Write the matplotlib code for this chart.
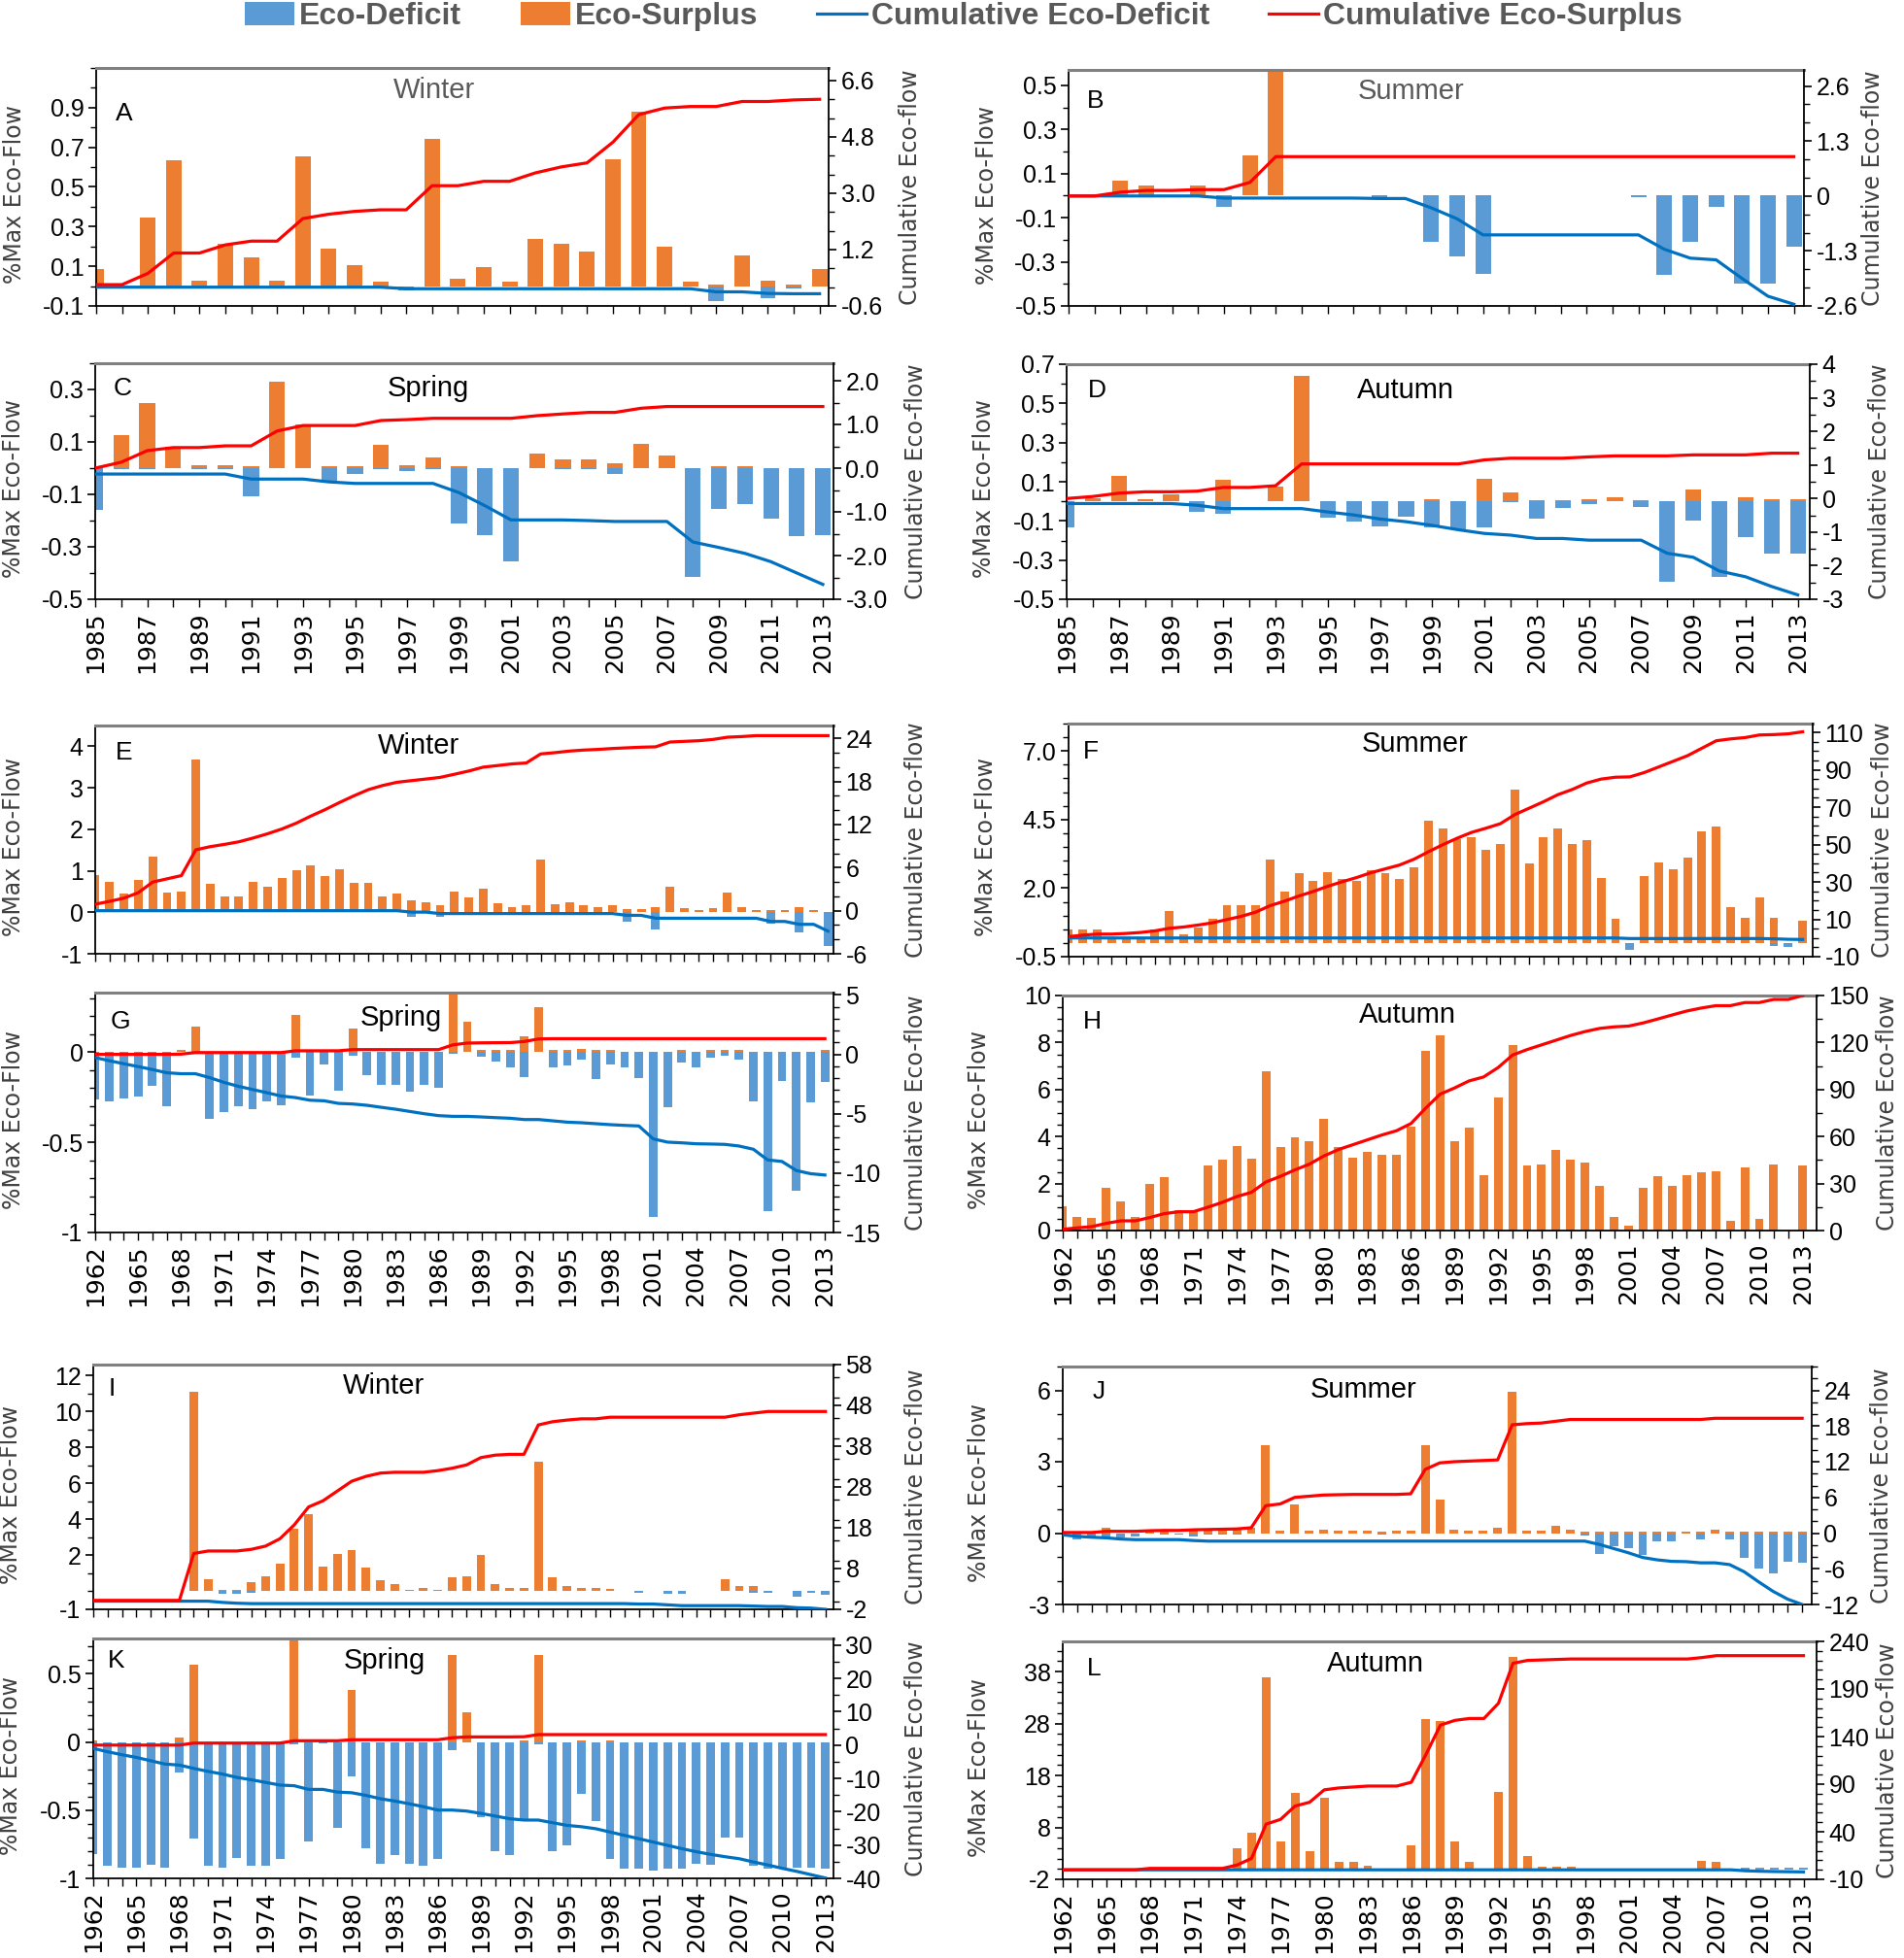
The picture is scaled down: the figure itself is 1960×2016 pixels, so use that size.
import numpy as np
import matplotlib
matplotlib.use("Agg")
import matplotlib.pyplot as plt
from matplotlib.patches import Patch
from matplotlib.lines import Line2D
from matplotlib.ticker import MultipleLocator

plt.rcParams['font.family'] = ['Liberation Sans', 'DejaVu Sans']

# ------------------------------------------------------------------ data
YEARS_SHORT = list(range(1985, 2014))
YEARS_LONG = list(range(1962, 2014))

LEGEND_LABELS = ['Eco-Deficit', 'Eco-Surplus', 'Cumulative Eco-Deficit', 'Cumulative Eco-Surplus']
SEASONS = ['Winter', 'Summer', 'Spring', 'Autumn', 'Winter', 'Summer',
           'Spring', 'Autumn', 'Winter', 'Summer', 'Spring', 'Autumn']
LETTERS = ['A', 'B', 'C', 'D', 'E', 'F', 'G', 'H', 'I', 'J', 'K', 'L']

# --- A (Winter 1985-2013)
A_surplus = [0.084, 0, 0.347, 0.634, 0.029, 0.215, 0.145, 0.029, 0.656, 0.19, 0.106, 0.022, 0, 0.744, 0.035,
             0.098, 0.022, 0.24, 0.215, 0.176, 0.642, 0.882, 0.2, 0.022, 0.006, 0.153, 0.029, 0.006, 0.084]
A_deficit = [0, 0, 0, 0, 0, 0, 0, 0, 0, 0, 0, 0, -0.02, 0, 0, 0, 0, 0, 0, 0, 0, 0, 0, 0, -0.077, 0, -0.063, -0.01, 0]
A_cum_surplus = [0.08, 0.08, 0.44, 1.09, 1.09, 1.35, 1.47, 1.47, 2.19, 2.33, 2.42, 2.47, 2.47, 3.24, 3.24,
                 3.38, 3.38, 3.65, 3.84, 3.97, 4.63, 5.51, 5.72, 5.77, 5.77, 5.93, 5.93, 5.98, 6.0]
A_cum_deficit = [0, 0, 0, 0, 0, 0, 0, 0, 0, 0, 0, 0, -0.05, -0.05, -0.05, -0.05, -0.05, -0.05, -0.05, -0.05,
                 -0.05, -0.05, -0.05, -0.05, -0.15, -0.15, -0.2, -0.21, -0.21]

# --- B (Summer 1985-2013)
B_surplus = [0, 0, 0.069, 0.047, 0, 0.047, 0, 0.184, 0.61] + [0] * 20
B_deficit = [0, 0, 0, 0, 0, 0, -0.049, 0, 0, 0, 0, 0, -0.008, 0, -0.21, -0.275, -0.353, 0, 0, 0, 0, 0,
             -0.005, -0.357, -0.21, -0.049, -0.40, -0.40, -0.23]
B_cum_surplus = [0, 0, 0.09, 0.13, 0.13, 0.15, 0.15, 0.32] + [0.93] * 21
B_cum_deficit = [0, 0, 0, 0, 0, 0, -0.05, -0.05, -0.05, -0.05, -0.05, -0.05, -0.06, -0.06, -0.28, -0.54,
                 -0.92, -0.92, -0.92, -0.92, -0.92, -0.92, -0.92, -1.26, -1.47, -1.51, -1.95, -2.37, -2.56]

# --- C (Spring 1985-2013)
C_surplus = [0, 0.125, 0.25, 0.081, 0.0125, 0.0125, 0.006, 0.331, 0.165, 0.006, 0.006, 0.09, 0.0125, 0.041,
             0.006, 0, 0, 0.056, 0.035, 0.035, 0.019, 0.094, 0.047, 0, 0.006, 0.006, 0, 0, 0]
C_deficit = [-0.159, -0.005, -0.005, 0, -0.005, -0.005, -0.106, 0, 0, -0.05, -0.022, -0.005, -0.01, -0.005,
             -0.21, -0.254, -0.356, 0, -0.005, -0.005, -0.022, 0, 0, -0.415, -0.154, -0.138, -0.191, -0.26, -0.254]
C_cum_surplus = [0, 0.135, 0.4, 0.47, 0.47, 0.51, 0.51, 0.85, 0.975, 0.975, 0.975, 1.09, 1.11, 1.14, 1.14,
                 1.14, 1.14, 1.2, 1.24, 1.275, 1.275, 1.37, 1.41, 1.41, 1.41, 1.41, 1.41, 1.41, 1.41]
C_cum_deficit = [-0.135] * 6 + [-0.25] * 3 + [-0.315, -0.35, -0.35, -0.35, -0.35, -0.56, -0.86, -1.185, -1.185,
                                              -1.185, -1.2, -1.22, -1.22, -1.22, -1.69, -1.815, -1.95, -2.14,
                                              -2.4, -2.66]

# --- D (Autumn 1985-2013)
D_surplus = [0, 0.017, 0.132, 0.013, 0.038, 0, 0.108, 0, 0.075, 0.642, 0, 0, 0, 0, 0.013, 0, 0.116, 0.043,
             0.005, 0.005, 0.013, 0.021, 0.005, 0, 0.06, 0, 0.021, 0.013, 0.013]
D_deficit = [-0.132, 0, 0, 0, 0, -0.053, -0.065, 0, 0, 0, -0.081, -0.103, -0.127, -0.078, -0.132, -0.144,
             -0.132, -0.005, -0.089, -0.036, -0.012, 0, -0.028, -0.409, -0.099, -0.384, -0.185, -0.268, -0.268]
D_cum_surplus = [0, 0.06, 0.16, 0.2, 0.2, 0.22, 0.33, 0.33, 0.38, 1.03, 1.03, 1.03, 1.03, 1.03, 1.03, 1.03,
                 1.15, 1.2, 1.2, 1.2, 1.24, 1.27, 1.27, 1.27, 1.3, 1.3, 1.3, 1.35, 1.35]
D_cum_deficit = [-0.15, -0.15, -0.15, -0.15, -0.15, -0.2, -0.3, -0.3, -0.3, -0.3, -0.4, -0.49, -0.61, -0.69,
                 -0.8, -0.93, -1.04, -1.09, -1.19, -1.19, -1.24, -1.24, -1.24, -1.63, -1.75, -2.16, -2.33,
                 -2.62, -2.87]

# --- E (Winter 1962-2013)
E_surplus = [0.89, 0.73, 0.46, 0.79, 1.35, 0.47, 0.50, 3.69, 0.69, 0.39, 0.39, 0.73, 0.61, 0.82, 1.01, 1.12,
             0.87, 1.04, 0.70, 0.70, 0.39, 0.44, 0.28, 0.23, 0.17, 0.50, 0.35, 0.57, 0.21, 0.13, 0.16, 1.27,
             0.20, 0.25, 0.17, 0.13, 0.17, 0.07, 0.07, 0.13, 0.62, 0.09, 0.05, 0.11, 0.47, 0.12, 0.05, 0.05,
             0.05, 0.13, 0.05, 0]
E_deficit = [0] * 22 + [-0.1, 0, -0.1] + [0] * 12 + [-0.22, 0, -0.41] + [0] * 7 + [-0.28, 0, -0.49, 0, -0.82]
E_cum_surplus = [0.9, 1.3, 1.75, 2.51, 3.99, 4.44, 4.89, 8.48, 8.92, 9.24, 9.6, 10.13, 10.72, 11.39, 12.2,
                 13.18, 14.08, 15.07, 16.0, 16.86, 17.44, 17.89, 18.12, 18.34, 18.57, 19.01, 19.46, 20.0,
                 20.22, 20.45, 20.58, 21.84, 22.02, 22.24, 22.38, 22.47, 22.6, 22.69, 22.78, 22.83, 23.5,
                 23.59, 23.68, 23.86, 24.17, 24.26, 24.39, 24.39, 24.39, 24.39, 24.39, 24.39]
E_cum_deficit = [0] * 22 + [-0.2, -0.2] + [-0.4] * 13 + [-0.65, -0.65] + [-1.05] * 8 + [-1.5, -1.5, -1.9, -1.9, -2.85]

# --- F (Summer 1962-2013)
F_surplus = [0.5, 0.5, 0.5, 0.2, 0.2, 0.2, 0.5, 1.17, 0.32, 0.55, 0.88, 1.38, 1.38, 1.38, 3.05, 1.89, 2.56,
             2.26, 2.59, 2.32, 2.26, 2.65, 2.56, 2.32, 2.77, 4.47, 4.19, 3.8, 3.86, 3.38, 3.62, 5.59, 2.89,
             3.86, 4.19, 3.62, 3.74, 2.38, 0.87, 0, 2.44, 2.94, 2.7, 3.11, 4.07, 4.23, 1.3, 0.91, 1.65,
             0.91, 0, 0.81]
F_deficit = [0] * 39 + [-0.24] + [0] * 9 + [-0.1, -0.15, 0]
F_cum_surplus = [0.7, 1.55, 2.07, 2.07, 2.42, 2.94, 3.8, 5.18, 5.87, 6.91, 8.12, 9.84, 11.57, 13.82, 17.27,
                 19.69, 22.45, 24.87, 27.63, 30.05, 32.3, 34.89, 36.96, 39.03, 42.14, 46.11, 49.91, 53.37,
                 56.48, 58.72, 61.14, 65.98, 69.43, 72.89, 76.68, 79.45, 82.9, 85.0, 86.0, 86.2, 88.5, 91.5,
                 94.5, 97.5, 101.5, 105.5, 106.5, 107.2, 108.6, 108.8, 109.2, 110.3]
F_cum_deficit = [0] * 39 + [-0.3] * 10 + [-0.45, -0.7, -0.8]

# --- G (Spring 1962-2013)
G_surplus = [0, 0, 0, 0, 0, 0, 0.011, 0.139, 0, 0, 0, 0, 0, 0, 0.207, 0, 0, 0, 0.13, 0, 0, 0, 0, 0, 0,
             0.40, 0.166, 0.011, 0.011, 0.011, 0.089, 0.25, 0.011, 0.011, 0.018, 0.011, 0.011, 0, 0, 0, 0,
             0.011, 0, 0.011, 0.011, 0.011, 0, 0, 0, 0, 0, 0.011]
G_deficit = [-0.263, -0.275, -0.257, -0.248, -0.1875, -0.298, 0, 0, -0.37, -0.334, -0.298, -0.316, -0.275,
             -0.293, -0.03, -0.239, -0.066, -0.2125, -0.018, -0.125, -0.179, -0.179, -0.221, -0.179, -0.196,
             -0.007, 0, -0.025, -0.052, -0.084, -0.1375, 0, -0.084, -0.075, -0.039, -0.15, -0.066, -0.084,
             -0.143, -0.914, -0.307, -0.057, -0.084, -0.03, -0.021, -0.039, -0.271, -0.879, -0.159, -0.768,
             -0.28, -0.168]
G_cum_surplus = [0] * 6 + [0.02] + [0.15] * 7 + [0.3] * 4 + [0.4] * 7 + [0.8, 0.95, 0.97, 0.98, 0.99, 1.08, 1.3] + [1.32] * 20
G_cum_deficit = [-0.27, -0.54, -0.79, -1.03, -1.28, -1.55, -1.63, -1.63, -1.96, -2.36, -2.69, -2.96, -3.23,
                 -3.51, -3.64, -3.86, -3.91, -4.13, -4.18, -4.29, -4.46, -4.62, -4.81, -5.0, -5.16, -5.22,
                 -5.22, -5.27, -5.33, -5.38, -5.49, -5.49, -5.6, -5.71, -5.76, -5.84, -5.92, -5.98, -6.03,
                 -7.12, -7.39, -7.45, -7.53, -7.55, -7.58, -7.72, -7.99, -8.89, -9.02, -9.78, -10.05, -10.16]

# --- H (Autumn 1962-2013)
H_surplus = [1.03, 0.59, 0.52, 1.83, 1.24, 0.59, 2.0, 2.28, 0.87, 0.83, 2.76, 3.0, 3.59, 3.06, 6.76, 3.56,
             3.97, 3.79, 4.76, 3.56, 3.1, 3.35, 3.21, 3.21, 4.44, 7.66, 8.3, 3.82, 4.39, 2.34, 5.66, 7.9,
             2.76, 2.83, 3.45, 3.0, 2.9, 1.9, 0.59, 0.21, 1.83, 2.3, 1.89, 2.34, 2.48, 2.51, 0.41, 2.69,
             0.48, 2.8, 0, 2.76]
H_deficit = [0] * 52
H_cum_surplus = [0.8, 1.7, 2.5, 4.6, 6.2, 6.2, 8.3, 10.8, 12.0, 12.0, 14.9, 18.0, 21.7, 24.4, 31.0, 34.6,
                 38.7, 42.4, 47.6, 51.7, 54.8, 57.9, 61.0, 63.7, 68.3, 78.0, 87.0, 91.0, 95.5, 98.0, 104.0,
                 112.0, 115.5, 118.5, 121.5, 124.5, 127.0, 129.0, 130.0, 130.5, 132.5, 135.0, 137.6, 140.1,
                 142.0, 143.5, 143.5, 145.5, 145.5, 147.5, 147.5, 150.0]
H_cum_deficit = [0] * 52

# --- I (Winter 1962-2013)
I_surplus = [0.05, 0.05, 0.05, 0.05, 0.05, 0.05, 0.05, 11.1, 0.69, 0.08, 0.08, 0.53, 0.86, 1.52, 3.5, 4.3,
             1.4, 2.1, 2.28, 1.32, 0.61, 0.41, 0.08, 0.17, 0.08, 0.79, 0.86, 2.0, 0.41, 0.17, 0.17, 7.22,
             0.79, 0.3, 0.21, 0.21, 0.13, 0.05, 0.05, 0.05, 0.05, 0.05, 0.05, 0.05, 0.69, 0.3, 0.3, 0.05,
             0.05, 0, 0, 0]
I_deficit = [0] * 9 + [-0.15, -0.15, -0.1] + [0] * 26 + [-0.1, 0, -0.15, -0.15, 0, 0, 0, 0, -0.1, -0.1, 0,
                                                        -0.3, -0.1, -0.2]
I_cum_surplus = [0.2] * 7 + [11.7, 12.3, 12.3, 12.3, 12.7, 13.5, 15.3, 18.7, 23.1, 24.6, 27.0, 29.4, 30.6,
                             31.4, 31.6, 31.6, 31.6, 32.0, 32.6, 33.4, 35.2, 35.8, 36.0, 36.0, 43.2, 44.0,
                             44.4, 44.7, 44.7] + [45.1] * 9 + [45.7, 46.1] + [46.5] * 5
I_cum_deficit = [0] * 9 + [-0.3, -0.5, -0.6] + [-0.6] * 26 + [-0.7, -0.7, -0.9, -1.1, -1.1, -1.1, -1.1, -1.1,
                                                             -1.2, -1.3, -1.3, -1.6, -1.7, -2.0]

# --- J (Summer 1962-2013)
J_surplus = [0.05, 0, 0, 0.23, 0, 0, 0.07, 0.07, 0, 0.16, 0.16, 0.16, 0.16, 0.23, 3.68, 0.1, 1.21, 0.1,
             0.16, 0.1, 0.1, 0.1, 0.07, 0.1, 0.1, 3.68, 1.41, 0.16, 0.1, 0.1, 0.23, 5.93, 0.1, 0.1, 0.3,
             0.16, 0.07, 0.07, 0.07, 0.07, 0.07, 0.07, 0.07, 0.07, 0.07, 0.16, 0.07, 0.07, 0.07, 0.07,
             0.07, 0.07]
J_deficit = [-0.1, -0.27, -0.14, -0.18, -0.18, -0.14, 0, -0.07, -0.07, -0.14, -0.07, -0.07, -0.07, 0, 0, 0,
             0, 0, 0, 0, 0, 0, -0.07, 0, 0, 0, 0, 0, 0, 0, 0, 0, 0, 0, 0, 0, -0.1, -0.86, -0.55, -0.64,
             -0.93, -0.34, -0.34, -0.04, -0.27, 0, -0.27, -1.05, -1.5, -1.7, -1.19, -1.26]
J_cum_surplus = [0.1, 0.1, 0.1, 0.3, 0.3, 0.3, 0.4, 0.45, 0.45, 0.55, 0.6, 0.65, 0.7, 0.9, 4.6, 4.9, 6.0,
                 6.2, 6.4, 6.45, 6.5, 6.5, 6.5, 6.5, 6.6, 10.7, 11.8, 12.0, 12.1, 12.2, 12.3, 18.2, 18.4,
                 18.5, 18.8, 19.1] + [19.1] * 9 + [19.3] * 7
J_cum_deficit = [-0.3, -0.55, -0.7, -0.8, -1.0, -1.1, -1.1, -1.1, -1.1, -1.25, -1.35] + [-1.35] * 26 + \
                [-1.9, -2.6, -3.3, -4.1, -4.5, -4.75, -4.8, -5.0, -5.0, -5.3, -6.5, -8.2, -9.8, -11.1, -12.0]

# --- K (Spring 1962-2013)
K_surplus = [0.015, 0, 0, 0, 0, 0, 0.03, 0.57, 0, 0, 0, 0, 0, 0, 0.75, 0, 0.02, 0, 0.38, 0, 0, 0, 0, 0, 0,
             0.64, 0.22, 0, 0, 0, 0.015, 0.64, 0, 0, 0.015, 0, 0.015] + [0] * 15
K_deficit = [-0.82, -0.91, -0.92, -0.92, -0.9, -0.92, -0.22, -0.71, -0.91, -0.92, -0.85, -0.91, -0.91, -0.86,
             -0.02, -0.73, -0.01, -0.63, -0.25, -0.78, -0.89, -0.83, -0.89, -0.91, -0.86, -0.06, 0, -0.55,
             -0.8, -0.83, -0.58, -0.02, -0.8, -0.76, -0.38, -0.58, -0.86, -0.93, -0.93, -0.94, -0.93, -0.93,
             -0.89, -0.9, -0.7, -0.7, -0.91, -0.93, -0.92, -0.92, -0.92, -0.93]
K_cum_surplus = [0] * 7 + [0.6] * 7 + [1.3] * 4 + [1.6] * 7 + [2.2, 2.45, 2.45, 2.45, 2.45, 2.5] + [3.15] * 21
K_cum_deficit = [-1.0, -2.0, -2.9, -3.7, -4.7, -5.7, -6.0, -7.0, -7.9, -8.7, -9.7, -10.4, -11.2, -12.0,
                 -12.2, -13.3, -13.3, -14.1, -14.3, -15.1, -16.1, -16.8, -17.6, -18.5, -19.5, -19.5, -19.8,
                 -20.5, -21.3, -22.1, -22.5, -22.5, -23.3, -24.1, -24.5, -25.1, -26.1, -27.1, -28.1, -29.1,
                 -30.1, -31.1, -32.0, -32.8, -33.5, -34.1, -35.1, -36.0, -37.0, -37.9, -38.9, -39.9]

# --- L (Autumn 1962-2013)
L_surplus = [0] * 12 + [3.9, 6.9, 36.9, 5.2, 14.6, 3.4, 13.75, 1.3, 1.3, 0.7, 0, 0, 4.6, 28.9, 28.5, 5.2,
                        1.3, 0, 14.9, 40.8, 2.5, 0.4, 0.4, 0.4] + [0] * 8 + [1.6, 1.3, 0, 0.2, 0.2, 0.2, 0.2, 0.2]
L_deficit = [0] * 47 + [-0.2] * 5
L_cum_surplus = [0] * 6 + [1.5] * 6 + [5, 12, 48, 53, 67, 71, 84, 86, 87, 88, 88, 88, 92, 121, 152, 157,
                                       159, 159, 175, 217, 220, 220.5, 221, 221.5] + [221.5] * 8 + [223, 225] + [225] * 6
L_cum_deficit = [0] * 47 + [-1.0, -1.5, -1.8, -2.0, -2.2]

# --- axis tick values / labels
A_LT = [-0.1, 0.1, 0.3, 0.5, 0.7, 0.9]; A_LL = ['-0.1', '0.1', '0.3', '0.5', '0.7', '0.9']
A_RT = [-0.6, 1.2, 3.0, 4.8, 6.6]; A_RL = ['-0.6', '1.2', '3.0', '4.8', '6.6']
B_LT = [-0.5, -0.3, -0.1, 0.1, 0.3, 0.5]; B_LL = ['-0.5', '-0.3', '-0.1', '0.1', '0.3', '0.5']
B_RT = [-2.6, -1.3, 0, 1.3, 2.6]; B_RL = ['-2.6', '-1.3', '0', '1.3', '2.6']
C_LT = [-0.5, -0.3, -0.1, 0.1, 0.3]; C_LL = ['-0.5', '-0.3', '-0.1', '0.1', '0.3']
C_RT = [-3, -2, -1, 0, 1, 2]; C_RL = ['-3.0', '-2.0', '-1.0', '0.0', '1.0', '2.0']
D_LT = [-0.5, -0.3, -0.1, 0.1, 0.3, 0.5, 0.7]; D_LL = ['-0.5', '-0.3', '-0.1', '0.1', '0.3', '0.5', '0.7']
D_RT = [-3, -2, -1, 0, 1, 2, 3, 4]; D_RL = ['-3', '-2', '-1', '0', '1', '2', '3', '4']
E_LT = [-1, 0, 1, 2, 3, 4]; E_LL = ['-1', '0', '1', '2', '3', '4']
E_RT = [-6, 0, 6, 12, 18, 24]; E_RL = ['-6', '0', '6', '12', '18', '24']
F_LT = [-0.5, 2.0, 4.5, 7.0]; F_LL = ['-0.5', '2.0', '4.5', '7.0']
F_RT = [-10, 10, 30, 50, 70, 90, 110]; F_RL = ['-10', '10', '30', '50', '70', '90', '110']
G_LT = [-1, -0.5, 0]; G_LL = ['-1', '-0.5', '0']
G_RT = [-15, -10, -5, 0, 5]; G_RL = ['-15', '-10', '-5', '0', '5']
H_LT = [0, 2, 4, 6, 8, 10]; H_LL = ['0', '2', '4', '6', '8', '10']
H_RT = [0, 30, 60, 90, 120, 150]; H_RL = ['0', '30', '60', '90', '120', '150']
I_LT = [-1, 2, 4, 6, 8, 10, 12]; I_LL = ['-1', '2', '4', '6', '8', '10', '12']
I_RT = [-2, 8, 18, 28, 38, 48, 58]; I_RL = ['-2', '8', '18', '28', '38', '48', '58']
J_LT = [-3, 0, 3, 6]; J_LL = ['-3', '0', '3', '6']
J_RT = [-12, -6, 0, 6, 12, 18, 24]; J_RL = ['-12', '-6', '0', '6', '12', '18', '24']
K_LT = [-1, -0.5, 0, 0.5]; K_LL = ['-1', '-0.5', '0', '0.5']
K_RT = [-40, -30, -20, -10, 0, 10, 20, 30]; K_RL = ['-40', '-30', '-20', '-10', '0', '10', '20', '30']
L_LT = [-2, 8, 18, 28, 38]; L_LL = ['-2', '8', '18', '28', '38']
L_RT = [-10, 40, 90, 140, 190, 240]; L_RL = ['-10', '40', '90', '140', '190', '240']

# ------------------------------------------------------------------ style
ORANGE = '#ED7D31'
BLUE_BAR = '#5B9BD5'
BLUE_LINE = '#0070C0'
RED = '#FF0000'
W, H = 1960, 2016

PANELS = [
    dict(years=YEARS_SHORT, sur=A_surplus, dfc=A_deficit, csur=A_cum_surplus, cdef=A_cum_deficit,
         lt=A_LT, ll=A_LL, rt=A_RT, rl=A_RL, ylim=(-0.1, 1.1), y2lim=(-0.6, 7.0), lmin=0.1, rmin=0.6,
         rect=(99, 70, 853, 315), pad=0.35, xstep=None, title=(0.462, 0.908), letter=(0.027, 0.808),
         tcolor='#595959'),
    dict(years=YEARS_SHORT, sur=B_surplus, dfc=B_deficit, csur=B_cum_surplus, cdef=B_cum_deficit,
         lt=B_LT, ll=B_LL, rt=B_RT, rl=B_RL, ylim=(-0.5, 0.57), y2lim=(-2.6, 2.98), lmin=0.1, rmin=1.3 / 3,
         rect=(1100, 72, 1857, 315), pad=0.39, xstep=None, title=(0.466, 0.91), letter=(0.025, 0.868),
         tcolor='#595959'),
    dict(years=YEARS_SHORT, sur=C_surplus, dfc=C_deficit, csur=C_cum_surplus, cdef=C_cum_deficit,
         lt=C_LT, ll=C_LL, rt=C_RT, rl=C_RL, ylim=(-0.5, 0.4), y2lim=(-3.0, 2.4), lmin=0.1, rmin=0.5,
         rect=(98, 374, 858, 617), pad=0.41, xstep=2, title=(0.451, 0.893), letter=(0.025, 0.893),
         tcolor='black'),
    dict(years=YEARS_SHORT, sur=D_surplus, dfc=D_deficit, csur=D_cum_surplus, cdef=D_cum_deficit,
         lt=D_LT, ll=D_LL, rt=D_RT, rl=D_RL, ylim=(-0.5, 0.7), y2lim=(-3, 4), lmin=0.1, rmin=0.5,
         rect=(1098, 375, 1863, 617), pad=0.46, xstep=2, title=(0.456, 0.887), letter=(0.029, 0.887),
         tcolor='black'),
    dict(years=YEARS_LONG, sur=E_surplus, dfc=E_deficit, csur=E_cum_surplus, cdef=E_cum_deficit,
         lt=E_LT, ll=E_LL, rt=E_RT, rl=E_RL, ylim=(-1, 4.5), y2lim=(-6, 25.8), lmin=None, rmin=2,
         rect=(98, 747, 858, 982), pad=0.38, xstep=None, title=(0.438, 0.912), letter=(0.027, 0.88),
         tcolor='black'),
    dict(years=YEARS_LONG, sur=F_surplus, dfc=F_deficit, csur=F_cum_surplus, cdef=F_cum_deficit,
         lt=F_LT, ll=F_LL, rt=F_RT, rl=F_RL, ylim=(-0.5, 8.0), y2lim=(-10, 114.7), lmin=0.5, rmin=5,
         rect=(1100, 745, 1866, 985), pad=0.7, xstep=None, title=(0.465, 0.911), letter=(0.02, 0.88),
         tcolor='black'),
    dict(years=YEARS_LONG, sur=G_surplus, dfc=G_deficit, csur=G_cum_surplus, cdef=G_cum_deficit,
         lt=G_LT, ll=G_LL, rt=G_RT, rl=G_RL, ylim=(-1, 0.33), y2lim=(-15, 5.2), lmin=0.1, rmin=1,
         rect=(98, 1022, 858, 1269), pad=0.6, xstep=3, title=(0.414, 0.895), letter=(0.02, 0.88),
         tcolor='black'),
    dict(years=YEARS_LONG, sur=H_surplus, dfc=H_deficit, csur=H_cum_surplus, cdef=H_cum_deficit,
         lt=H_LT, ll=H_LL, rt=H_RT, rl=H_RL, ylim=(0, 10), y2lim=(0, 150), lmin=0.5, rmin=15,
         rect=(1094, 1025, 1870, 1267), pad=0.95, xstep=3, title=(0.458, 0.917), letter=(0.027, 0.89),
         tcolor='black'),
    dict(years=YEARS_LONG, sur=I_surplus, dfc=I_deficit, csur=I_cum_surplus, cdef=I_cum_deficit,
         lt=I_LT, ll=I_LL, rt=I_RT, rl=I_RL, ylim=(-1, 12.6), y2lim=(-2, 58), lmin=1, rmin=5,
         rect=(96, 1405, 858, 1657), pad=0.56, xstep=None, title=(0.392, 0.913), letter=(0.02, 0.90),
         tcolor='black'),
    dict(years=YEARS_LONG, sur=J_surplus, dfc=J_deficit, csur=J_cum_surplus, cdef=J_cum_deficit,
         lt=J_LT, ll=J_LL, rt=J_RT, rl=J_RL, ylim=(-3, 7), y2lim=(-12, 28), lmin=1, rmin=2,
         rect=(1094, 1407, 1865, 1652), pad=0.66, xstep=None, title=(0.402, 0.902), letter=(0.04, 0.892),
         tcolor='black'),
    dict(years=YEARS_LONG, sur=K_surplus, dfc=K_deficit, csur=K_cum_surplus, cdef=K_cum_deficit,
         lt=K_LT, ll=K_LL, rt=K_RT, rl=K_RL, ylim=(-1, 0.76), y2lim=(-40, 32), lmin=0.1, rmin=5,
         rect=(96, 1687, 858, 1934), pad=0.56, xstep=3, title=(0.393, 0.907), letter=(0.02, 0.907),
         tcolor='black'),
    dict(years=YEARS_LONG, sur=L_surplus, dfc=L_deficit, csur=L_cum_surplus, cdef=L_cum_deficit,
         lt=L_LT, ll=L_LL, rt=L_RT, rl=L_RL, ylim=(-2, 43.8), y2lim=(-10, 240), lmin=2, rmin=10,
         rect=(1094, 1690, 1870, 1935), pad=0.9, xstep=3, title=(0.415, 0.908), letter=(0.032, 0.887),
         tcolor='black'),
]

fig = plt.figure(figsize=(W / 100, H / 100), dpi=100)
fig.patch.set_facecolor('white')

for i, p in enumerate(PANELS):
    l, t, r, b = p['rect']
    ax = fig.add_axes([l / W, 1 - b / H, (r - l) / W, (b - t) / H])
    years = p['years']
    x = np.arange(len(years))
    ax.bar(x, p['sur'], width=0.6, color=ORANGE, linewidth=0, zorder=2)
    ax.bar(x, p['dfc'], width=0.6, color=BLUE_BAR, linewidth=0, zorder=2)
    ax.set_xlim(0, len(years) - 1 + p['pad'])
    ax.set_ylim(*p['ylim'])
    ax.set_yticks(p['lt'])
    ax.set_yticklabels(p['ll'])
    if p['lmin']:
        ax.yaxis.set_minor_locator(MultipleLocator(p['lmin']))
    ax.set_xticks(x)
    if p['xstep']:
        ax.set_xticklabels([str(y) if k % p['xstep'] == 0 else '' for k, y in enumerate(years)],
                           rotation=90, fontfamily='DejaVu Sans', fontsize=18)
    else:
        ax.set_xticklabels([])
    ax.tick_params(axis='y', which='major', direction='out', length=6, width=1.2, labelsize=18, pad=3)
    ax.tick_params(axis='y', which='minor', direction='out', length=4, width=1.0)
    ax.tick_params(axis='x', which='major', direction='out', length=6, width=1.0, pad=3)
    ax.spines['right'].set_visible(False)
    ax.spines['top'].set_color('#808080')
    ax.spines['top'].set_linewidth(2.2)
    ax.spines['left'].set_linewidth(1.3)
    ax.spines['bottom'].set_linewidth(1.3)

    ax.text(-0.111, 0.47, '%Max Eco-Flow', rotation=90, ha='center', va='center',
            transform=ax.transAxes, fontfamily='DejaVu Sans', fontsize=17, color='#404040')
    ax.text(p['title'][0], p['title'][1], SEASONS[i], ha='center', va='center', transform=ax.transAxes,
            fontsize=21, color=p['tcolor'])
    ax.text(p['letter'][0], p['letter'][1], LETTERS[i], ha='left', va='center', transform=ax.transAxes,
            fontsize=19, color='black')

    ax2 = ax.twinx()
    if any(v != 0 for v in p['cdef']):
        ax2.plot(x, p['cdef'], color=BLUE_LINE, lw=2.3)
    ax2.plot(x, p['csur'], color=RED, lw=2.3)
    ax2.set_ylim(*p['y2lim'])
    ax2.set_yticks(p['rt'])
    ax2.set_yticklabels(p['rl'])
    if p['rmin']:
        ax2.yaxis.set_minor_locator(MultipleLocator(p['rmin']))
    ax2.tick_params(axis='y', which='major', direction='out', length=6, width=1.2, labelsize=18, pad=3)
    ax2.tick_params(axis='y', which='minor', direction='out', length=4, width=1.0)
    for s in ['left', 'bottom', 'top']:
        ax2.spines[s].set_visible(False)
    ax2.spines['right'].set_linewidth(1.3)
    rx = 1.112 if i % 2 == 0 else 1.094
    ax2.text(rx, 0.5, 'Cumulative Eco-flow', rotation=90, ha='center', va='center',
             transform=ax2.transAxes, fontfamily='DejaVu Sans', fontsize=17, color='#404040')

handles = [Patch(facecolor=BLUE_BAR, edgecolor='none'), Patch(facecolor=ORANGE, edgecolor='none'),
           Line2D([], [], color=BLUE_LINE, lw=2.3), Line2D([], [], color=RED, lw=2.3)]
fig.legend(handles, LEGEND_LABELS, loc='center', bbox_to_anchor=(0.506, 1 - 17 / H), ncol=4, frameon=False,
           prop=dict(family='Liberation Sans', weight='bold', size=23), handlelength=1.6, handleheight=0.75,
           handletextpad=0.15, columnspacing=1.9, labelcolor='#595959')

fig.savefig('out.png', dpi=100, facecolor='white')
